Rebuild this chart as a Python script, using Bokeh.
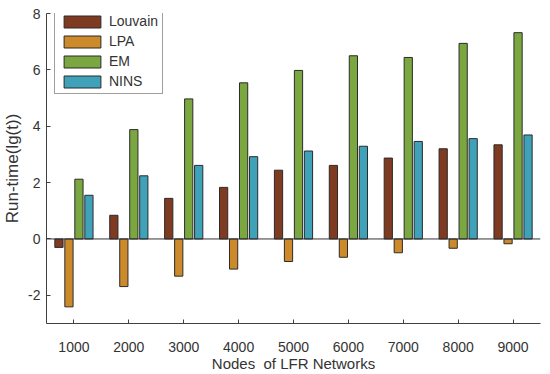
from bokeh.plotting import figure
from bokeh.models import ColumnDataSource, Range1d, FixedTicker, Span
from bokeh.transform import dodge
from bokeh.embed import file_html
from bokeh.resources import INLINE

nodes = [1000, 2000, 3000, 4000, 5000, 6000, 7000, 8000, 9000]
tick_labels = ["1000", "2000", "3000", "4000", "5000", "6000", "7000", "8000", "9000"]
louvain = [-0.30, 0.84, 1.44, 1.83, 2.44, 2.61, 2.87, 3.20, 3.34]
lpa = [-2.41, -1.69, -1.32, -1.07, -0.80, -0.65, -0.49, -0.33, -0.17]
em = [2.12, 3.88, 4.97, 5.54, 5.98, 6.50, 6.44, 6.94, 7.32]
nins = [1.55, 2.24, 2.61, 2.92, 3.12, 3.29, 3.46, 3.56, 3.69]
series_names = ["Louvain", "LPA", "EM", "NINS"]
colors = ["#7F3A22", "#CC8A2A", "#7BA740", "#3FA2B8"]

src = ColumnDataSource(dict(x=nodes, Louvain=louvain, LPA=lpa, EM=em, NINS=nins))

FONT = "Liberation Sans"
TXT = "#333333"

p = figure(width=550, height=374, output_backend="svg", toolbar_location=None,
           x_range=Range1d(500, 9500), y_range=Range1d(-3, 8),
           min_border_left=0, min_border_right=10, min_border_top=13, min_border_bottom=50)
p.outline_line_color = None
p.xgrid.grid_line_color = None
p.ygrid.grid_line_color = None

offsets = [-273, -91, 91, 273]
for name, col, off in zip(series_names, colors, offsets):
    p.vbar(x=dodge("x", off, range=p.x_range), top=name, bottom=0, width=150,
           source=src, fill_color=col, line_color="#2B2B2B", line_width=1,
           legend_label=name)

p.add_layout(Span(location=0, dimension="width", line_color="#333333", line_width=1))

p.xaxis.ticker = FixedTicker(ticks=nodes)
p.xaxis.major_label_overrides = {n: t for n, t in zip(nodes, tick_labels)}
p.yaxis.ticker = FixedTicker(ticks=[-2, 0, 2, 4, 6, 8])
p.yaxis.major_label_overrides = {-2: "-2"}

for ax in (p.xaxis[0], p.yaxis[0]):
    ax.axis_line_color = "#404040"
    ax.major_tick_line_color = "#404040"
    ax.major_tick_in = 4
    ax.major_tick_out = 0
    ax.minor_tick_line_color = None
    ax.major_label_text_font = FONT
    ax.major_label_text_font_size = "14px"
    ax.major_label_text_color = TXT
    ax.axis_label_text_font = FONT
    ax.axis_label_text_font_style = "normal"
    ax.axis_label_text_color = TXT

p.xaxis.axis_label = "Nodes\u00a0 of LFR Networks"
p.xaxis.axis_label_text_font_size = "15px"
p.xaxis.major_label_standoff = 18
p.xaxis.axis_label_standoff = 0

p.yaxis.axis_label = "Run-time(lg(t))"
p.yaxis.axis_label_text_font_size = "17px"
p.yaxis.major_label_standoff = 6
p.yaxis.axis_label_standoff = 3

leg = p.legend[0]
leg.location = (8, 229)
leg.padding = 4
leg.spacing = 4
leg.margin = 0
leg.glyph_width = 46
leg.glyph_height = 15
leg.label_height = 15
leg.label_standoff = 4
leg.label_text_font = FONT
leg.label_text_font_size = "14px"
leg.label_text_color = TXT
leg.border_line_color = "#404040"
leg.border_line_width = 1
leg.background_fill_color = "white"
leg.background_fill_alpha = 1

open("out.html", "w").write(file_html(p, INLINE))
